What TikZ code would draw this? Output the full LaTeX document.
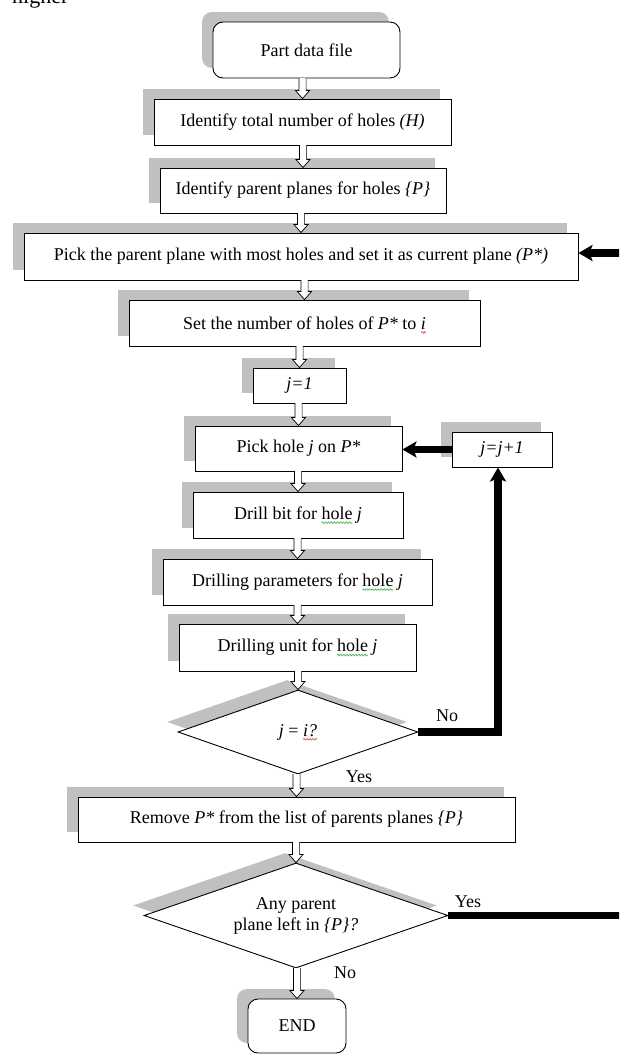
\documentclass[tikz,border=0pt]{standalone}
\usepackage{fontspec}
\setmainfont{Liberation Serif}
\usetikzlibrary{shapes.geometric,arrows.meta,calc,shadows,decorations.pathmorphing}
\definecolor{shadowgray}{RGB}{192,192,192}
\definecolor{wavered}{RGB}{225,40,40}
\definecolor{wavegreen}{RGB}{60,165,60}
\newcommand\fs{\fontsize{18}{21}\selectfont}
\newlength\tA \newlength\pA \newlength\wA
\newlength\tB \newlength\pB \newlength\wB
\newlength\tC \newlength\pC
\newlength\tD \newlength\pD
\newlength\tE \newlength\pE \newlength\wE
\newcommand\harrow[2]{\draw[line width=0.7pt, fill=white] let \p1=(#1.south), \p2=(#2.north) in (\x2-3.6pt,\y1+0.3pt) -- (\x2-3.6pt,\y2+8pt) -- (\x2-7pt,\y2+8pt) -- (\x2,\y2) -- (\x2+7pt,\y2+8pt) -- (\x2+3.6pt,\y2+8pt) -- (\x2+3.6pt,\y1+0.3pt);}
\newcommand\wv[5]{\draw[#1, line width=0.6pt, decorate, decoration={snake, amplitude=0.8pt, segment length=3pt}] ($(#2.base)+({-0.5*#3+#4},-3.2pt)$) -- ++(#5,0pt);}
\tikzset{
  box/.style={draw, line width=0.9pt, fill=white, inner sep=0pt, align=center,
    drop shadow={shadow xshift=-11pt, shadow yshift=10pt, fill=shadowgray, opacity=1}},
  rbox/.style={box, rounded corners=10pt},
  dec/.style={box, shape=diamond, aspect=2.9},
  thk/.style={line width=7.5pt, black},
  thka/.style={thk, -{Stealth[length=14pt,width=16pt,inset=3pt]}},
  lbl/.style={inner sep=0pt}
}
\begin{document}
\settowidth\tA{\fs Set the number of holes of \textit{P*} to \textit{i}}
\settowidth\pA{\fs Set the number of holes of \textit{P*} to }
\settowidth\wA{\fs \textit{i}}
\settowidth\tB{\fs Drill bit for hole \textit{j}}
\settowidth\pB{\fs Drill bit for }
\settowidth\wB{\fs hole}
\settowidth\tC{\fs Drilling parameters for hole \textit{j}}
\settowidth\pC{\fs Drilling parameters for }
\settowidth\tD{\fs Drilling unit for hole \textit{j}}
\settowidth\pD{\fs Drilling unit for }
\settowidth\tE{\fs \textit{j} = \textit{i?}}
\settowidth\pE{\fs \textit{j} = }
\settowidth\wE{\fs \textit{i?}}
\begin{tikzpicture}[x=1pt,y=-1pt, every node/.style={font=\fs}]
\useasboundingbox (0,0) rectangle (619,1055);
\clip (0,0) rectangle (619,1055);
\node[anchor=base west, inner sep=0pt, font=\fontsize{22}{26}\selectfont] (hi) at (12,3) {higher};
% nodes
\node[rbox, minimum width=187pt, minimum height=56pt] (pdf) at (306.5,50) {Part data file};
\node[box, minimum width=297pt, minimum height=46pt] (b2) at (302.5,122) {Identify total number of holes \textit{(H)}};
\node[box, minimum width=286pt, minimum height=45pt] (b3) at (303,190.5) {Identify parent planes for holes \textit{\{P\}}};
\node[box, minimum width=554pt, minimum height=47pt] (b4) at (301,256.5) {Pick the parent plane with most holes and set it as current plane \textit{(P*)}};
\node[box, minimum width=351pt, minimum height=46pt] (b5) at (304.5,323) {Set the number of holes of \textit{P*} to \textit{i}};
\node[box, minimum width=93pt, minimum height=35pt] (j1) at (299.5,385.5) {\textit{j=1}};
\node[box, minimum width=207pt, minimum height=45pt] (ph) at (298.5,448.5) {Pick hole \textit{j} on \textit{P*}};
\node[box, minimum width=100pt, minimum height=35pt] (jj) at (502,449.5) {\textit{j=j+1}};
\node[box, minimum width=210pt, minimum height=46pt] (db) at (298,515) {Drill bit for hole \textit{j}};
\node[box, minimum width=269pt, minimum height=46pt] (dp) at (297.5,582) {Drilling parameters for hole \textit{j}};
\node[box, minimum width=237pt, minimum height=47pt] (du) at (297.5,647.5) {Drilling unit for hole \textit{j}};
\node[dec, minimum width=240pt, minimum height=84pt] (d1) at (298,732) {\textit{j} = \textit{i?}};
\node[box, minimum width=437pt, minimum height=45pt] (rm) at (296.5,819.5) {Remove \textit{P*} from the list of parents planes \textit{\{P\}}};
\node[dec, minimum width=304pt, minimum height=105pt] (d2) at (296,915.5) {Any parent\\plane left in \textit{\{P\}?}};
\node[rbox, minimum width=98pt, minimum height=54pt] (end) at (297,1026) {END};
% spell-check waves
\wv{wavered}{b5}{\tA}{\pA}{\wA}
\wv{wavegreen}{db}{\tB}{\pB}{\wB}
\wv{wavegreen}{dp}{\tC}{\pC}{\wB}
\wv{wavegreen}{du}{\tD}{\pD}{\wB}
\wv{wavered}{d1}{\tE}{\pE}{\wE}
% labels
\node[lbl] (no1) at (447,716) {No};
\node[lbl] (yes1) at (359,777) {Yes};
\node[lbl] (yes2) at (468,902) {Yes};
\node[lbl] (no2) at (345,973) {No};
% hollow arrows
\harrow{pdf}{b2}
\harrow{b2}{b3}
\harrow{b3}{b4}
\harrow{b4}{b5}
\harrow{b5}{j1}
\harrow{j1}{ph}
\harrow{ph}{db}
\harrow{db}{dp}
\harrow{dp}{du}
\harrow{du}{d1}
\harrow{d1}{rm}
\harrow{rm}{d2}
\harrow{d2}{end}
% thick connectors
\coordinate (redge) at (625,253);
\coordinate (nc) at (498,732);
\draw[thka] (redge) -- (redge -| b4.east);
\draw[thka] (jj.west) -- (jj.west -| ph.east);
\draw[thka] (d1.east) -- (nc) -- (nc |- jj.south);
\draw[thk] (d2.east) -- (d2.east -| redge);
\end{tikzpicture}
\end{document}
